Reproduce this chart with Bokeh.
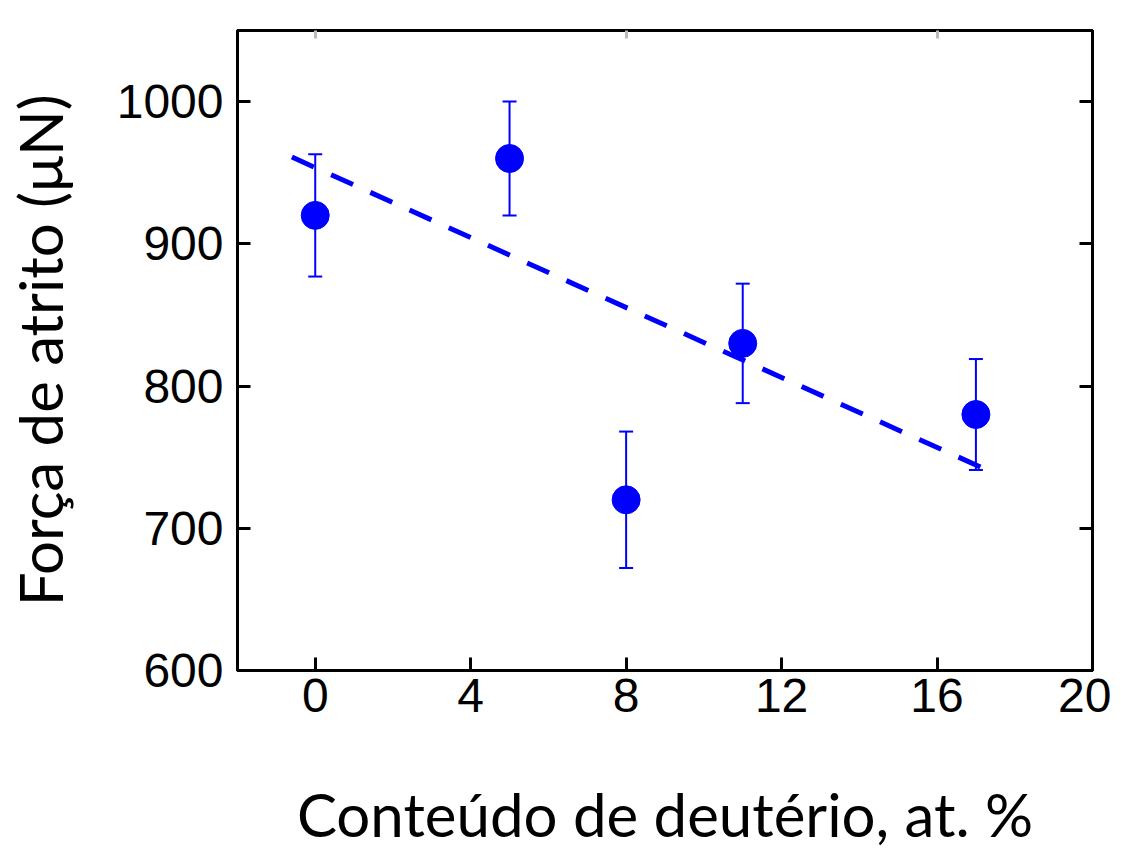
from bokeh.plotting import figure
from bokeh.models import (ColumnDataSource, Whisker, TeeHead, LinearAxis, FixedTicker,
                          Range1d, CustomJSTickFormatter)
from bokeh.embed import file_html
from bokeh.resources import INLINE

# data
deuterium = [0, 5, 8, 11, 17]
friction = [920, 960, 720, 830, 780]
err = [43, 40, 48, 42, 39]
fit_x = [-0.6, 17.45]
fit_y = [961, 739]
x_ticks = [0, 4, 8, 12, 16, 20]
y_ticks = [600, 700, 800, 900, 1000]
x_title = "Conteúdo de deutério, at. %"
y_title = "Força de atrito (μN)"

BLUE = "#0000ff"
TICK_FONT = "Liberation Sans"
TITLE_FONT = "Lato"
W, H = 1111, 853
FL, FT, FW, FH = 236, 30, 856, 640   # frame left/top/width/height in px

src = ColumnDataSource(dict(
    x=deuterium, y=friction,
    upper=[v + e for v, e in zip(friction, err)],
    lower=[v - e for v, e in zip(friction, err)],
))

p = figure(width=W, height=H, output_backend="svg", toolbar_location=None,
           x_range=Range1d(-2, 20), y_range=Range1d(600, 1050),
           min_border_left=FL, min_border_right=W - FL - FW, min_border_top=FT,
           min_border_bottom=H - FT - FH)
p.grid.visible = False
p.outline_line_color = "black"
p.outline_line_width = 3
p.background_fill_color = "white"
p.border_fill_color = "white"

p.line(fit_x, fit_y, line_color=BLUE, line_width=5, line_dash="24 19")
p.add_layout(Whisker(source=src, base="x", upper="upper", lower="lower",
                     line_color=BLUE, line_width=2,
                     upper_head=TeeHead(size=14, line_color=BLUE, line_width=2),
                     lower_head=TeeHead(size=14, line_color=BLUE, line_width=2)))
p.scatter("x", "y", source=src, size=28, fill_color=BLUE, line_color=BLUE)


def style(ax):
    ax.axis_line_width = 3
    ax.axis_line_color = "black"
    ax.major_tick_line_width = 3
    ax.major_tick_line_color = "black"
    ax.major_tick_in = 13
    ax.major_tick_out = 0
    ax.minor_tick_line_color = None
    ax.major_label_text_font = TICK_FONT
    ax.major_label_text_font_size = "48px"
    ax.major_label_text_color = "black"
    ax.axis_label_text_font = TITLE_FONT
    ax.axis_label_text_font_size = "60px"
    ax.axis_label_text_font_style = "normal"
    ax.axis_label_text_color = "black"


p.xaxis.ticker = FixedTicker(ticks=x_ticks)
p.yaxis.ticker = FixedTicker(ticks=y_ticks)
style(p.xaxis[0])
style(p.yaxis[0])
p.xaxis.major_label_standoff = 8
p.yaxis.major_label_standoff = 14
p.xaxis.axis_label = x_title
p.xaxis.axis_label_standoff = 63
p.yaxis.axis_label = y_title
p.yaxis.axis_label_standoff = 38

right = LinearAxis(ticker=FixedTicker(ticks=y_ticks), formatter=CustomJSTickFormatter(code="return ''"))
style(right)
right.major_label_standoff = 0
right.major_label_text_font_size = "1px"
p.add_layout(right, "right")

top = LinearAxis(ticker=FixedTicker(ticks=[0, 8, 16]), formatter=CustomJSTickFormatter(code="return ''"))
style(top)
top.major_tick_line_color = "#bbbbbb"
top.major_tick_in = 8
top.major_label_standoff = 0
top.major_label_text_font_size = "1px"
p.add_layout(top, "above")

open("out.html", "w").write(file_html(p, INLINE))
